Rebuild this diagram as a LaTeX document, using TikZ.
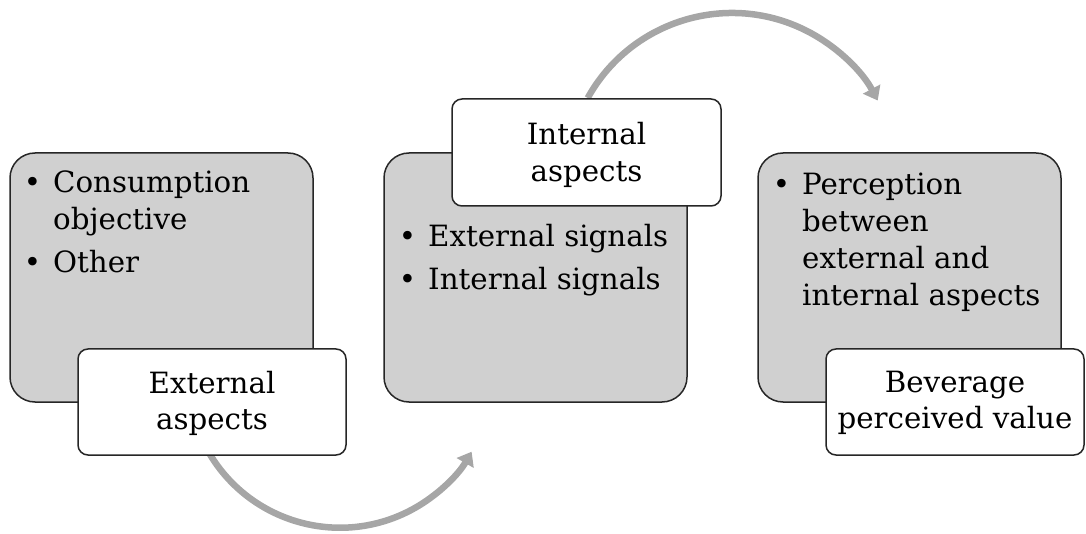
\documentclass[tikz,border=0pt]{standalone}
\usepackage{fontspec}
\setmainfont{DejaVu Serif}
\usetikzlibrary{arrows.meta}
\definecolor{panelgray}{HTML}{D0D0D0}
\definecolor{flowgray}{HTML}{A6A6A6}
\tikzset{
  panel/.style={draw=black!85, line width=1.5pt, fill=panelgray, rounded corners=25pt},
  tag/.style={draw=black!85, line width=1.5pt, fill=white, rounded corners=10pt},
  txt/.style={inner sep=0pt, font=\fontsize{29.3}{37}\selectfont},
  flow/.style={draw=flowgray, line width=6.5pt, -{Triangle[length=13pt,width=19pt]}},
}
\newcommand{\itm}{\llap{\textbullet\hspace{12pt}}}
\begin{document}
\begin{tikzpicture}[x=1pt,y=1pt]
\useasboundingbox (0,0) rectangle (1086,533);

% curved flow arrows (behind the boxes)
\coordinate (a1s) at (209.7,79);
\coordinate (a2s) at (587.7,435);
\draw[flow] (a1s) arc[start angle=211, end angle=330, radius=152] coordinate (a1e);
\draw[flow] (a2s) arc[start angle=151, end angle=28, radius=165] coordinate (a2e);

% grey panels
\draw[panel] (10,131) rectangle (313,380);
\draw[panel] (384,131) rectangle (687,380);
\draw[panel] (758,131) rectangle (1061,380);

\node[txt, anchor=base west] (p1) at (53,340)
  {\begin{tabular}[t]{@{}l@{}}\itm Consumption\\ objective\\[6pt] \itm Other\end{tabular}};
\node[txt, anchor=base west] (p2) at (428,286)
  {\begin{tabular}[t]{@{}l@{}}\itm External signals\\[6pt] \itm Internal signals\end{tabular}};
\node[txt, anchor=base west] (p3) at (802,338)
  {\begin{tabular}[t]{@{}l@{}}\itm Perception\\ between\\ external and\\ internal aspects\end{tabular}};

% white title tags
\draw[tag] (78,78) rectangle (346,184);
\draw[tag] (452,327) rectangle (721,434);
\draw[tag] (826,78) rectangle (1084,184);

\node[txt, anchor=base] (t1) at (212,140)
  {\begin{tabular}[t]{@{}c@{}}External\\ aspects\end{tabular}};
\node[txt, anchor=base] (t2) at (586.5,388)
  {\begin{tabular}[t]{@{}c@{}}Internal\\ aspects\end{tabular}};
\node[txt, anchor=base] (t3) at (955,141)
  {\begin{tabular}[t]{@{}c@{}}Beverage\\ perceived value\end{tabular}};
\end{tikzpicture}
\end{document}
